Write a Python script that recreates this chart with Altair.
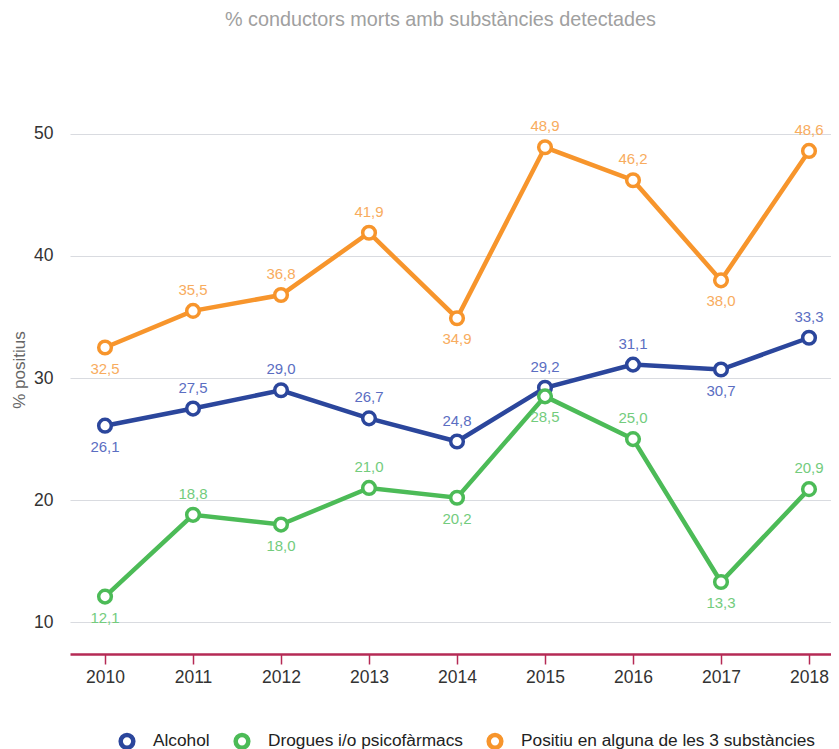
import altair as alt
import pandas as pd

years = [2010, 2011, 2012, 2013, 2014, 2015, 2016, 2017, 2018]
series_names = ["Alcohol", "Drogues i/o psicofàrmacs", "Positiu en alguna de les 3 substàncies"]
alcohol = [26.1, 27.5, 29.0, 26.7, 24.8, 29.2, 31.1, 30.7, 33.3]
drogues = [12.1, 18.8, 18.0, 21.0, 20.2, 28.5, 25.0, 13.3, 20.9]
positiu = [32.5, 35.5, 36.8, 41.9, 34.9, 48.9, 46.2, 38.0, 48.6]
# label placement: "up" above the point, "down" below it
alcohol_place = ["down", "up", "up", "up", "up", "up", "up", "down", "up"]
drogues_place = ["down", "up", "down", "up", "down", "down", "up", "down", "up"]
positiu_place = ["down", "up", "up", "up", "down", "up", "up", "down", "up"]

line_colors = ["#2b469c", "#4cbb57", "#f7952c"]
label_colors = ["#5b6ec2", "#73cc7d", "#f8ac5e"]

values = [alcohol, drogues, positiu]
places = [alcohol_place, drogues_place, positiu_place]

x_enc = alt.X("year:Q", scale=alt.Scale(domain=[2009.602, 2018.25], nice=False, zero=False),
              axis=alt.Axis(title=None, values=years, format="d", labelAngle=0, grid=False,
                            domainColor="#b52a55", domainWidth=2.5, tickColor="#b52a55",
                            tickWidth=1.5, tickSize=10, labelFontSize=17.5, labelColor="#333333",
                            labelPadding=4, labelFont="Liberation Sans"))
y_enc = alt.Y("v:Q", scale=alt.Scale(domain=[7.4, 54], nice=False, zero=False),
              axis=alt.Axis(title="% positius", values=[10, 20, 30, 40, 50], grid=True,
                            gridColor="#d9dbe0", gridWidth=1.2, domain=False, ticks=False,
                            labelFontSize=17.5, labelColor="#333333", labelPadding=17,
                            labelFont="Liberation Sans", titleFont="Liberation Sans",
                            titleFontSize=17, titleFontWeight="normal", titleColor="#666666",
                            titlePadding=5))

color_scale = alt.Scale(domain=series_names, range=line_colors)
legend = alt.Legend(title=None, orient="none", legendX=48, legendY=647, direction="horizontal",
                    symbolType="circle", symbolSize=160, symbolStrokeWidth=4.5,
                    symbolFillColor="white", labelFontSize=17.3, labelColor="#222222",
                    labelFont="Liberation Sans", columnPadding=16, labelOffset=17,
                    labelLimit=400)

layers = []
for name, vals, pl, lc, tc in zip(series_names, values, places, line_colors, label_colors):
    df = pd.DataFrame({
        "year": years,
        "v": vals,
        "series": [name] * len(years),
        "place": pl,
        "txt": [f"{v:.1f}".replace(".", ",") for v in vals],
    })
    base = alt.Chart(df)
    line = base.mark_line(color=lc, strokeWidth=4.5).encode(x=x_enc, y=y_enc)
    pts = base.mark_point(filled=False, fill="white", size=160, strokeWidth=3.5,
                          opacity=1, shape="circle").encode(
        x=x_enc, y=y_enc,
        color=alt.Color("series:N", scale=color_scale, legend=legend))
    up = base.transform_filter(alt.datum.place == "up").mark_text(
        dy=-21, fontSize=15, color=tc, font="Liberation Sans").encode(x=x_enc, y=y_enc, text="txt:N")
    down = base.transform_filter(alt.datum.place == "down").mark_text(
        dy=21, fontSize=15, color=tc, font="Liberation Sans").encode(x=x_enc, y=y_enc, text="txt:N")
    layers += [line, pts, up, down]

chart = alt.layer(*layers).properties(
    width=761, height=569,
    title=alt.TitleParams("% conductors morts amb substàncies detectades",
                          font="Liberation Sans", fontSize=19.8, fontWeight="normal",
                          color="#a0a0a0", anchor="middle", offset=55.5, dx=-10),
    padding={"left": 2, "top": 1, "right": 0, "bottom": 0},
).configure_view(stroke=None)

chart.save("out.html", embed_options={"renderer": "svg", "actions": False})
